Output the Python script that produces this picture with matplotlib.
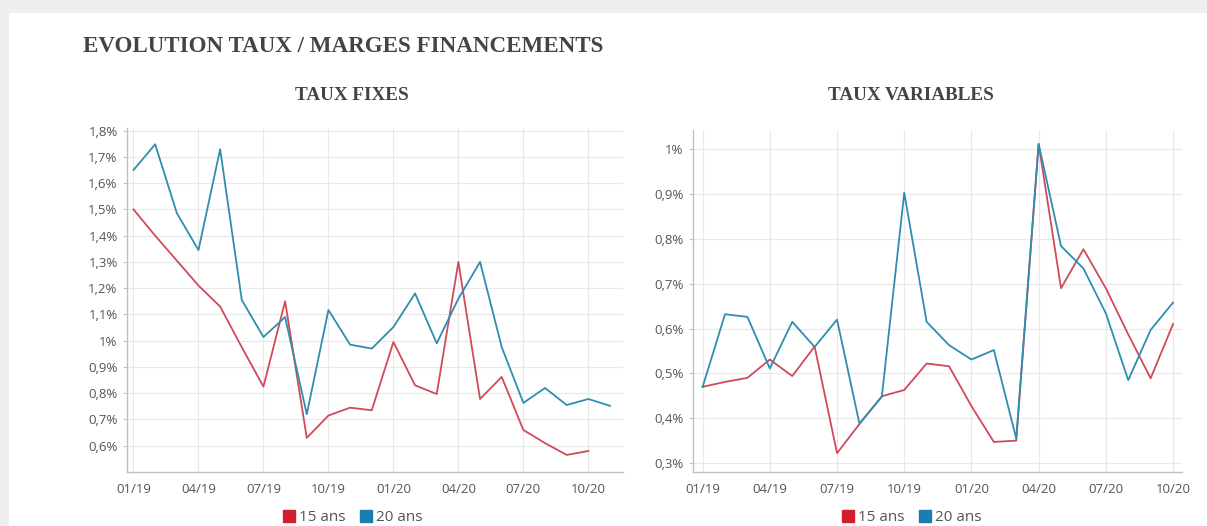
import matplotlib
matplotlib.use("Agg")
import matplotlib.pyplot as plt
from matplotlib.lines import Line2D
from matplotlib.patches import Rectangle
from matplotlib.ticker import FuncFormatter

# monthly rates, Jan 2019 onwards (in %)
months_fixes = ["01/19", "02/19", "03/19", "04/19", "05/19", "06/19", "07/19",
                "08/19", "09/19", "10/19", "11/19", "12/19", "01/20", "02/20",
                "03/20", "04/20", "05/20", "06/20", "07/20", "08/20", "09/20",
                "10/20", "11/20"]
months_var = months_fixes[:22]

fixes_15 = [1.50, 1.40, 1.305, 1.21, 1.13, 0.975, 0.825, 1.15, 0.63, 0.715,
            0.745, 0.735, 0.995, 0.83, 0.797, 1.30, 0.778, 0.862, 0.66, 0.61,
            0.565, 0.58]
fixes_20 = [1.65, 1.748, 1.486, 1.345, 1.729, 1.155, 1.014, 1.09, 0.72, 1.117,
            0.985, 0.97, 1.052, 1.18, 0.99, 1.16, 1.30, 0.976, 0.763, 0.82,
            0.755, 0.778, 0.752]

var_15 = [0.47, 0.481, 0.49, 0.531, 0.494, 0.56, 0.322, 0.387, 0.449, 0.463,
          0.522, 0.516, 0.427, 0.347, 0.35, 1.012, 0.69, 0.777, 0.69, 0.587,
          0.489, 0.61]
var_20 = [0.47, 0.632, 0.626, 0.511, 0.615, 0.559, 0.62, 0.388, 0.448, 0.903,
          0.615, 0.563, 0.531, 0.552, 0.355, 1.012, 0.784, 0.734, 0.634, 0.485,
          0.597, 0.658]

quarter_labels = ["01/19", "04/19", "07/19", "10/19", "01/20", "04/20", "07/20", "10/20"]
fixes_yticks = [0.6, 0.7, 0.8, 0.9, 1.0, 1.1, 1.2, 1.3, 1.4, 1.5, 1.6, 1.7, 1.8]
var_yticks = [0.3, 0.4, 0.5, 0.6, 0.7, 0.8, 0.9, 1.0]

RED = "#d04a5a"
BLUE = "#2f8db0"
RED_KEY = "#d11f2e"
BLUE_KEY = "#1a7fb0"
TXT = "#555555"
GRID = "#e8e8e8"
AXIS = "#c0c0c0"

W, H = 1207, 526
fig = plt.figure(figsize=(W / 100, H / 100), dpi=100, facecolor="#efefef")
# white card behind everything
fig.patches.append(Rectangle((9 / W, 0), 1, 1 - 13 / H, transform=fig.transFigure,
                             facecolor="white", edgecolor="none", zorder=-10))


def pct(v, pos):
    return f"{round(v, 1):g}".replace(".", ",") + "%"


def px_axes(x0, x1, y0, y1):
    ax = fig.add_axes([x0 / W, 1 - y1 / H, (x1 - x0) / W, (y1 - y0) / H])
    ax.set_zorder(1)
    return ax


def style(ax, months, yticks, ylim, xlim):
    ax.set_facecolor("none")
    ax.set_xlim(*xlim)
    ax.set_ylim(*ylim)
    qpos = [months.index(q) for q in quarter_labels if q in months]
    ax.set_xticks(qpos)
    ax.set_xticklabels([months[i] for i in qpos])
    ax.set_yticks(yticks)
    ax.yaxis.set_major_formatter(FuncFormatter(pct))
    ax.grid(True, color=GRID, linewidth=0.8)
    ax.set_axisbelow(True)
    for s in ("top", "right"):
        ax.spines[s].set_visible(False)
    for s in ("left", "bottom"):
        ax.spines[s].set_color(AXIS)
        ax.spines[s].set_linewidth(1.0)
    ax.tick_params(axis="y", length=3.2, color=AXIS, pad=3.6, labelsize=9.5,
                   labelcolor=TXT)
    ax.tick_params(axis="x", length=0, pad=8, labelsize=9.5, labelcolor=TXT)
    for lab in ax.get_xticklabels() + ax.get_yticklabels():
        lab.set_family("Open Sans")


ax1 = px_axes(127, 623, 128, 472)
ax1.plot(range(len(fixes_15)), fixes_15, color=RED, lw=1.3)
ax1.plot(range(len(fixes_20)), fixes_20, color=BLUE, lw=1.3)
style(ax1, months_fixes, fixes_yticks, (0.5, 1.81), (-0.3, 22.6))

ax2 = px_axes(693, 1182, 130, 472)
ax2.plot(range(len(var_15)), var_15, color=RED, lw=1.3)
ax2.plot(range(len(var_20)), var_20, color=BLUE, lw=1.3)
style(ax2, months_var, var_yticks, (0.28, 1.043), (-0.43, 21.4))

serif = "Liberation Serif"
fig.text(83 / W, 1 - 46 / H, "EVOLUTION TAUX / MARGES FINANCEMENTS", family=serif,
         weight="bold", fontsize=16.6, color="#444444", ha="left", va="center")
fig.text(352 / W, 1 - 95.5 / H, "TAUX FIXES", family=serif, weight="bold",
         fontsize=13.8, color="#444444", ha="center", va="center")
fig.text(911 / W, 1 - 95.5 / H, "TAUX VARIABLES", family=serif, weight="bold",
         fontsize=13.8, color="#444444", ha="center", va="center")

handles = [Line2D([], [], marker="s", linestyle="none", markersize=9, color=RED_KEY),
           Line2D([], [], marker="s", linestyle="none", markersize=9, color=BLUE_KEY)]
for cx in (352, 911):
    fig.legend(handles, ["15 ans", "20 ans"], loc="center", ncol=2,
               bbox_to_anchor=(cx / W, 1 - 517.5 / H), frameon=False,
               handletextpad=0.2, columnspacing=0.8, handlelength=1.0,
               prop={"family": "Open Sans", "size": 11}, labelcolor=TXT)

fig.savefig("out.png", dpi=100, facecolor=fig.get_facecolor())
